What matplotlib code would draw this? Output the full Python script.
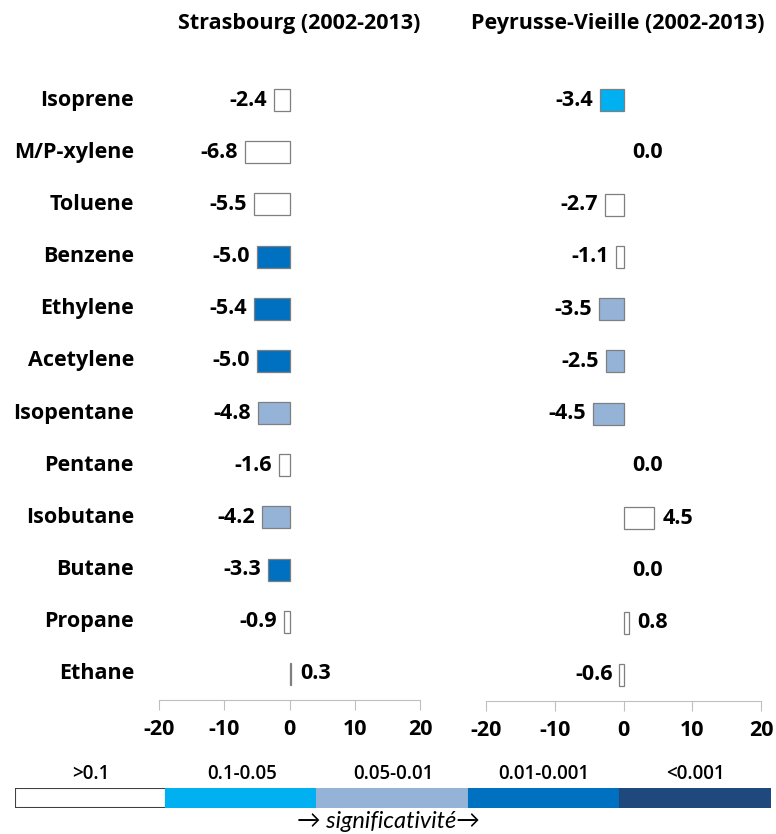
import matplotlib.pyplot as plt
from matplotlib.patches import Rectangle

plt.rcParams['font.family'] = ['Open Sans', 'DejaVu Sans']
plt.rcParams['axes.unicode_minus'] = False

compounds = ['Isoprene', 'M/P-xylene', 'Toluene', 'Benzene', 'Ethylene',
             'Acetylene', 'Isopentane', 'Pentane', 'Isobutane', 'Butane',
             'Propane', 'Ethane']

# trends (%/an) and significance class (0: >0.1 ... 4: <0.001)
strasbourg = [-2.4, -6.8, -5.5, -5.0, -5.4, -5.0, -4.8, -1.6, -4.2, -3.3, -0.9, 0.3]
strasbourg_sig = [0, 0, 0, 3, 3, 3, 2, 0, 2, 3, 0, 0]
peyrusse = [-3.4, 0.0, -2.7, -1.1, -3.5, -2.5, -4.5, 0.0, 4.5, 0.0, 0.8, -0.6]
peyrusse_sig = [1, 0, 0, 0, 2, 2, 2, 0, 0, 0, 0, 0]

sig_labels = ['>0.1', '0.1-0.05', '0.05-0.01', '0.01-0.001', '<0.001']
sig_colors = ['#FFFFFF', '#00B0F0', '#95B3D7', '#0070C0', '#1F497D']

FS = 15.5
W, H = 776, 834
fig = plt.figure(figsize=(W / 100, H / 100), dpi=100)


def px_axes(x0, y0, x1, y1):
    return fig.add_axes([x0 / W, 1 - y1 / H, (x1 - x0) / W, (y1 - y0) / H])


def panel(ax, values, sig, title, title_x):
    y = range(len(values))
    ax.barh(y, values, height=0.42, color=[sig_colors[s] for s in sig],
            edgecolor='#7F7F7F', linewidth=[0.9 if v != 0 else 0 for v in values])
    for i, v in enumerate(values):
        if v < 0:
            ax.annotate(f'{v:.1f}', (v, i), xytext=(-5, 0), textcoords='offset points',
                        ha='right', va='center', fontsize=FS, fontweight='bold')
        else:
            ax.annotate(f'{v:.1f}', (v, i), xytext=(6, 0), textcoords='offset points',
                        ha='left', va='center', fontsize=FS, fontweight='bold')
    ax.set_xlim(-20, 20)
    ax.set_ylim(len(values) - 0.5, -0.5)
    ax.set_xticks([-20, -10, 0, 10, 20])
    ax.set_yticks([])
    for s in ['top', 'left', 'right']:
        ax.spines[s].set_visible(False)
    ax.spines['bottom'].set_color('#BFBFBF')
    ax.tick_params(axis='x', length=7, color='#BFBFBF', labelsize=FS, pad=7)
    for t in ax.get_xticklabels():
        t.set_fontweight('bold')
    fig.text(title_x / W, 1 - 23 / H, title, ha='center', va='center',
             fontsize=FS, fontweight='bold')


ax1 = px_axes(159, 74, 420, 700)
panel(ax1, strasbourg, strasbourg_sig, 'Strasbourg (2002-2013)', 299)
ax2 = px_axes(486, 74, 761, 701)
panel(ax2, peyrusse, peyrusse_sig, 'Peyrusse-Vieille (2002-2013)', 618)

# compound names
for i, name in enumerate(compounds):
    ax1.annotate(name, (0, i), xycoords=('figure fraction', 'data'),
                 xytext=(134, 0), textcoords='offset pixels',
                 ha='right', va='center', fontsize=FS, fontweight='bold')

# significance scale
axl = px_axes(15, 788, 771, 808)
for k, (lab, col) in enumerate(zip(sig_labels, sig_colors)):
    axl.add_patch(Rectangle((k, 0), 1, 1, facecolor=col,
                            edgecolor='#404040' if k == 0 else col, linewidth=1.5))
    axl.text(k + 0.5, 1.7, lab, ha='center', va='center', fontsize=13.5,
             fontweight='semibold')
axl.set_xlim(0, 5)
axl.set_ylim(0, 1)
axl.axis('off')
fig.text(388 / W, 1 - 821 / H, '\u2192 significativit\u00e9\u2192', ha='center',
         va='center', fontsize=17, style='italic', family=['Lato', 'DejaVu Sans'])

fig.savefig('out.png', dpi=100)
